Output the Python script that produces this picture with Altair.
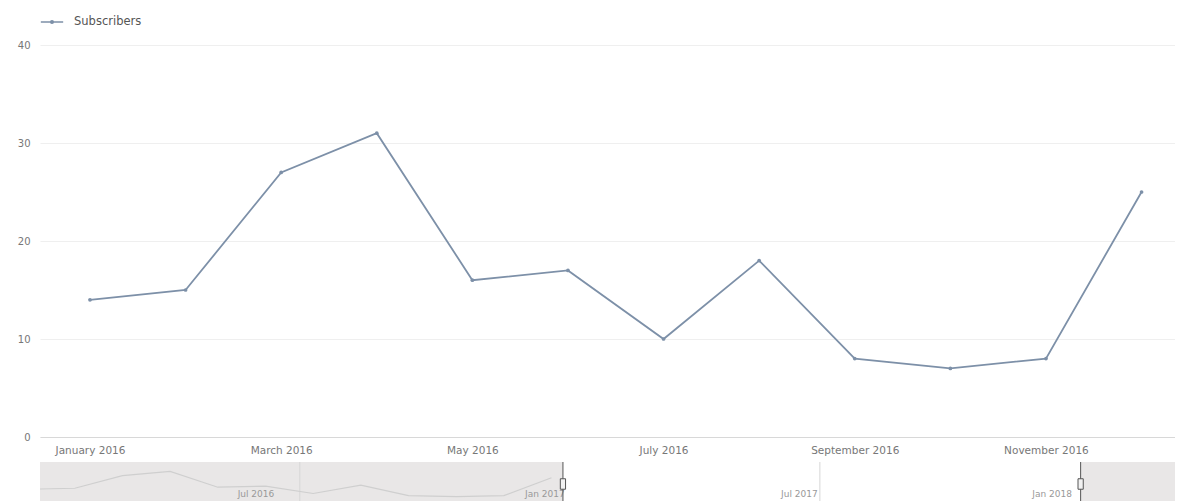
import altair as alt
import pandas as pd

# ---- data ----
month_labels = ["January 2016", "February 2016", "March 2016", "April 2016",
                "May 2016", "June 2016", "July 2016", "August 2016",
                "September 2016", "October 2016", "November 2016", "December 2016"]
subscribers = [14, 15, 27, 31, 16, 17, 10, 18, 8, 7, 8, 25]
series_name = "Subscribers"
y_ticks = [0, 10, 20, 30, 40]
x_label_idx = [0, 2, 4, 6, 8, 10]

# navigator (range selector) data, in navigator month units
nav_shade_start = [0.27, 22.1]
nav_shade_end = [11.24, 24.27]
nav_handles = [11.24, 22.1]
nav_grid = [5.72, 16.63]
nav_label_pos = [4.8, 10.86, 16.2, 21.5]
nav_labels = ["Jul 2016", "Jan 2017", "Jul 2017", "Jan 2018"]

df = pd.DataFrame({"idx": list(range(len(subscribers))),
                   "month": month_labels,
                   "value": subscribers,
                   "series": [series_name] * len(subscribers)})

LINE = "#7d90a8"
FONT = "DejaVu Sans"
W = 1135
label_arr = "[" + ",".join("'%s'" % m for m in month_labels) + "]"

xscale = alt.Scale(domain=[-0.523, 11.35], nice=False, zero=False)

legend_symbol = ("M-1,0 L1,0 M-0.12,0 a0.12,0.12 0 1,0 0.24,0 "
                 "a0.12,0.12 0 1,0 -0.24,0")

main = alt.Chart(df).mark_line(
    strokeWidth=1.8,
    point=alt.OverlayMarkDef(filled=True, size=14, color=LINE),
).encode(
    x=alt.X("idx:Q", scale=xscale,
            axis=alt.Axis(values=x_label_idx, labelExpr=label_arr + "[datum.value]",
                          title=None, grid=False, ticks=False, domainColor="#d8d8d8",
                          labelColor="#777", labelFontSize=10.5, labelFont=FONT,
                          labelPadding=8, labelFlush=False)),
    y=alt.Y("value:Q", scale=alt.Scale(domain=[0, 40], nice=False),
            axis=alt.Axis(values=y_ticks, title=None, ticks=False, domain=False,
                          gridColor="#efefef", labelColor="#777", labelFontSize=10,
                          labelFont=FONT, labelPadding=10,
                          minExtent=32, maxExtent=32)),
    color=alt.Color("series:N", scale=alt.Scale(range=[LINE]),
                    legend=alt.Legend(title=None, orient="none", legendX=0, legendY=-35,
                                      symbolType=legend_symbol, symbolSize=500,
                                      symbolStrokeWidth=1.5, labelFontSize=11.5,
                                      labelOffset=10,
                                      labelColor="#555", labelFont=FONT)),
).properties(width=W, height=392)

# ---- navigator ----
NH = 42
nav_x = alt.Scale(domain=[0.27, 0.27 + W / 47.67], nice=False, zero=False)
shade_df = pd.DataFrame({"s": nav_shade_start, "e": nav_shade_end})
shade = alt.Chart(shade_df).mark_rect(color="#e9e7e7", clip=True).encode(
    x=alt.X("s:Q", scale=nav_x, axis=None), x2="e:Q",
    y=alt.value(0), y2=alt.value(NH))
grid_df = pd.DataFrame({"g": nav_grid})
ngrid = alt.Chart(grid_df).mark_rule(color="#d6d6d6", strokeWidth=1).encode(
    x=alt.X("g:Q", scale=nav_x, axis=None))
nline = alt.Chart(df).mark_line(color="#cfcfcf", strokeWidth=1.2, clip=True).encode(
    x=alt.X("idx:Q", scale=nav_x, axis=None),
    y=alt.Y("value:Q", scale=alt.Scale(domain=[0, 40], nice=False), axis=None))
lab_df = pd.DataFrame({"p": nav_label_pos, "t": nav_labels})
nlab = alt.Chart(lab_df).mark_text(fontSize=9, color="#999", baseline="bottom",
                                   font=FONT).encode(
    x=alt.X("p:Q", scale=nav_x, axis=None), y=alt.value(NH - 5), text="t:N")
h_df = pd.DataFrame({"h": nav_handles})
hrule = alt.Chart(h_df).mark_rule(color="#555", strokeWidth=1).encode(
    x=alt.X("h:Q", scale=nav_x, axis=None))
hbox = alt.Chart(h_df).mark_point(shape="M-0.5,-1 L0.5,-1 L0.5,1 L-0.5,1 Z", size=110,
                                  filled=True, fill="#f2f2f2", stroke="#555",
                                  strokeWidth=1, opacity=1).encode(
    x=alt.X("h:Q", scale=nav_x, axis=None), y=alt.value(22))

nav = alt.layer(shade, ngrid, nline, nlab, hrule, hbox).properties(width=W, height=NH)

chart = alt.vconcat(main, nav, spacing=25, bounds="flush").properties(
    padding={"left": 0, "top": 2, "right": 0, "bottom": 0}
).configure_view(stroke=None)

chart.save("out.html", embed_options={"renderer": "svg", "actions": False})
